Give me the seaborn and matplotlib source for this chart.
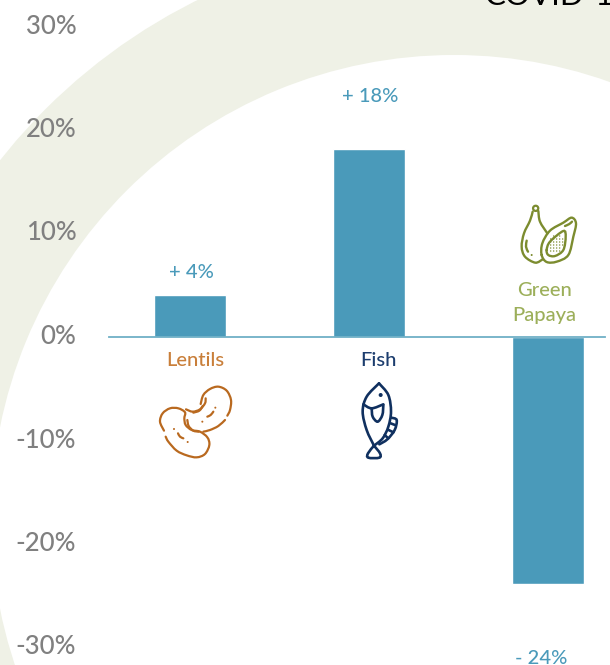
import numpy as np
import pandas as pd
import matplotlib
matplotlib.use("Agg")
import matplotlib.pyplot as plt
from matplotlib.patches import Wedge, Circle, PathPatch
from matplotlib.path import Path
from matplotlib.transforms import Affine2D, ScaledTranslation
import seaborn as sns

categories = ["Lentils", "Fish", "Green\nPapaya"]
changes = [4, 18.1, -23.9]
value_labels = ["+ 4%", "+ 18%", "- 24%"]
y_ticks = [-30, -20, -10, 0, 10, 20, 30]
y_tick_labels = ["-30%", "-20%", "-10%", "0%", "10%", "20%", "30%"]

W, H = 610, 665
BAR = "#4A9ABA"
RING = "#EFF1E6"
TICK = "#808080"
AXIS = "#6FB0C6"
LENTIL_TXT, LENTIL_ICON = "#C97F3A", "#B9691F"
FISH_TXT, FISH_ICON = "#1C3D6E", "#10305F"
PAPAYA_TXT, PAPAYA_ICON = "#9CAF5A", "#7C8C2F"
FONT = "Lato"
ZERO = 336.5
SCALE = 10.35

sns.set_theme(style="white")
plt.rcParams["font.family"] = [FONT, "DejaVu Sans"]

fig = plt.figure(figsize=(W / 100, H / 100), dpi=100, facecolor="white")
px = Affine2D().scale(1, -1).translate(0, H)

# background ring, concentric circles
fig.add_artist(Wedge((454, 518), 578, 0, 360, width=115, facecolor=RING,
                     edgecolor="none", transform=px, zorder=0))

ax = fig.add_axes([109 / W, 0, (605 - 109) / W, 1])
ax.patch.set_alpha(0)
ax.set_zorder(2)

df = pd.DataFrame({"category": categories, "change": changes})
sns.barplot(data=df, x="category", y="change", color=BAR, saturation=1,
            width=0.402, ax=ax, legend=False)

ax.set_xlim((109 - 190) / 179, (605 - 190) / 179)
ax.set_ylim((ZERO - H) / SCALE, ZERO / SCALE)
ax.set_xlabel("")
ax.set_ylabel("")
ax.set_xticks([])
ax.set_yticks(y_ticks)
ax.set_yticklabels(y_tick_labels, fontsize=18.5, color=TICK, fontfamily=FONT, fontweight="medium")
ax.tick_params(axis="y", length=0, pad=23.5)
shift = ScaledTranslation(0, 2.5 / 100, fig.dpi_scale_trans)
for lab in ax.get_yticklabels():
    lab.set_transform(lab.get_transform() + shift)
for side in ("top", "left", "right"):
    ax.spines[side].set_visible(False)
ax.spines["bottom"].set_position(("data", 0))
ax.spines["bottom"].set_color(AXIS)
ax.spines["bottom"].set_linewidth(1.3)
ax.grid(False)

# value labels: vertical centre in pixels from the top
for i, (lab, ypix, xoff) in enumerate(zip(value_labels, [272, 96, 658], [1, 1, -7])):
    ax.text(i + xoff / 179, (ZERO - ypix) / SCALE, lab, color=BAR, fontsize=14.5,
            fontweight="medium", ha="center", va="center", fontfamily=FONT)

# category labels
cat_style = [(195, 360, LENTIL_TXT), (378, 360, FISH_TXT), (544, 303, PAPAYA_TXT)]
for name, (xp, yp, col) in zip(categories, cat_style):
    fig.text(xp / W, 1 - yp / H, name, color=col, fontsize=14.5, ha="center", fontweight="medium",
             va="center", linespacing=1.55, fontfamily=FONT, zorder=5)

# clipped heading at the top right
fig.text(485 / W, 1 - 5 / H, "COVID-19", color="black", fontsize=22.5, ha="left",
         va="baseline", fontfamily=FONT, zorder=5)


def smooth(points, ox, oy, closed=False):
    p = np.array(points, float) / 3 + [ox, oy]
    if closed:
        p = np.vstack([p, p[0]])
        prev = np.vstack([p[-2], p])
        nxt = np.vstack([p, p[1]])
    else:
        prev = np.vstack([p[0], p])
        nxt = np.vstack([p, p[-1]])
    verts = [p[0]]
    codes = [Path.MOVETO]
    for i in range(len(p) - 1):
        verts += [p[i] + (nxt[i + 1] - prev[i]) / 6,
                  p[i + 1] - (nxt[i + 2] - p[i]) / 6, p[i + 1]]
        codes += [Path.CURVE4] * 3
    return Path(verts, codes)


def stroke(points, ox, oy, col, lw=1.5, closed=False):
    fig.add_artist(PathPatch(smooth(points, ox, oy, closed), facecolor="none", edgecolor=col,
                             linewidth=lw, transform=px, capstyle="round", zorder=6))


def dot(x, y, ox, oy, col, r=0.8):
    fig.add_artist(Circle((x / 3 + ox, y / 3 + oy), r, facecolor=col, edgecolor="none",
                          transform=px, zorder=6))


# lentils icon
o = (150, 380, LENTIL_ICON)
for pts in [
    [(152, 72), (160, 45), (180, 27), (205, 20), (230, 32), (243, 60), (240, 90), (232, 107)],
    [(225, 120), (205, 138), (180, 150), (160, 155)],
    [(167, 55), (165, 70), (150, 88), (128, 95), (108, 88)],
    [(42, 152), (30, 125), (38, 100), (60, 85), (85, 85), (105, 97), (103, 115), (107, 135),
     (125, 150), (150, 155), (172, 172), (178, 195), (165, 222), (140, 232), (110, 226),
     (80, 212), (55, 185), (47, 170)],
    [(112, 120), (116, 138), (130, 152), (146, 155)],
    [(158, 78), (148, 92), (130, 98)],
    [(84, 160), (90, 170), (100, 175)],
    [(172, 110), (182, 105), (190, 95)],
]:
    stroke(pts, *o, lw=1.6)
for x, y in [(72, 147), (113, 186), (157, 125), (196, 83)]:
    dot(x, y, o[0], o[1], o[2], 1.0)

# fish icon
o = (350, 375, FISH_ICON)
for pts in [
    [(87, 25), (50, 65), (38, 110), (50, 165), (72, 212)],
    [(87, 25), (115, 60), (123, 110), (115, 155), (98, 190), (72, 212)],
    [(72, 212), (54, 235), (55, 248), (88, 248), (90, 235), (72, 212)],
    [(40, 88), (65, 100), (100, 88)],
    [(65, 100), (68, 125), (83, 140), (97, 120), (100, 90)],
    [(124, 128), (140, 135), (134, 165), (112, 193), (88, 208)],
    [(122, 145), (135, 150)],
    [(116, 165), (130, 172)],
    [(104, 180), (115, 190)],
]:
    stroke(pts, *o, lw=1.9)
dot(92, 60, o[0], o[1], o[2], 2.0)

# papaya icon
o = (510, 200, PAPAYA_ICON)
fig.add_artist(Circle((77 / 3 + 510, 25 / 3 + 200), 2.6, facecolor="none", edgecolor=o[2],
                      linewidth=1.6, transform=px, zorder=6))
for pts, closed in [
    ([(68, 35), (60, 62), (42, 100), (35, 140), (45, 170), (76, 188), (98, 178)], False),
    ([(85, 33), (90, 65), (112, 100)], False),
    ([(50, 122), (48, 140), (54, 155)], False),
    ([(95, 165), (97, 130), (120, 92), (160, 68), (185, 53), (198, 70), (190, 110),
      (175, 165), (140, 185), (110, 186)], True),
    ([(110, 150), (120, 125), (160, 93), (167, 110), (160, 150), (135, 168), (115, 165)], True),
    ([(165, 78), (178, 72), (186, 65)], False),
]:
    stroke(pts, *o, lw=1.7, closed=closed)
dot(65, 165, o[0], o[1], o[2], 1.0)
for xg in np.arange(122, 166, 9):
    for yg in np.arange(108, 166, 9):
        if (xg - 138) ** 2 / 26 ** 2 + (yg - 132) ** 2 / 34 ** 2 < 0.75 + (xg - 138) * (138 - yg) / 2600:
            dot(xg, yg, o[0], o[1], o[2], 0.7)

fig.savefig("out.png", dpi=100)
